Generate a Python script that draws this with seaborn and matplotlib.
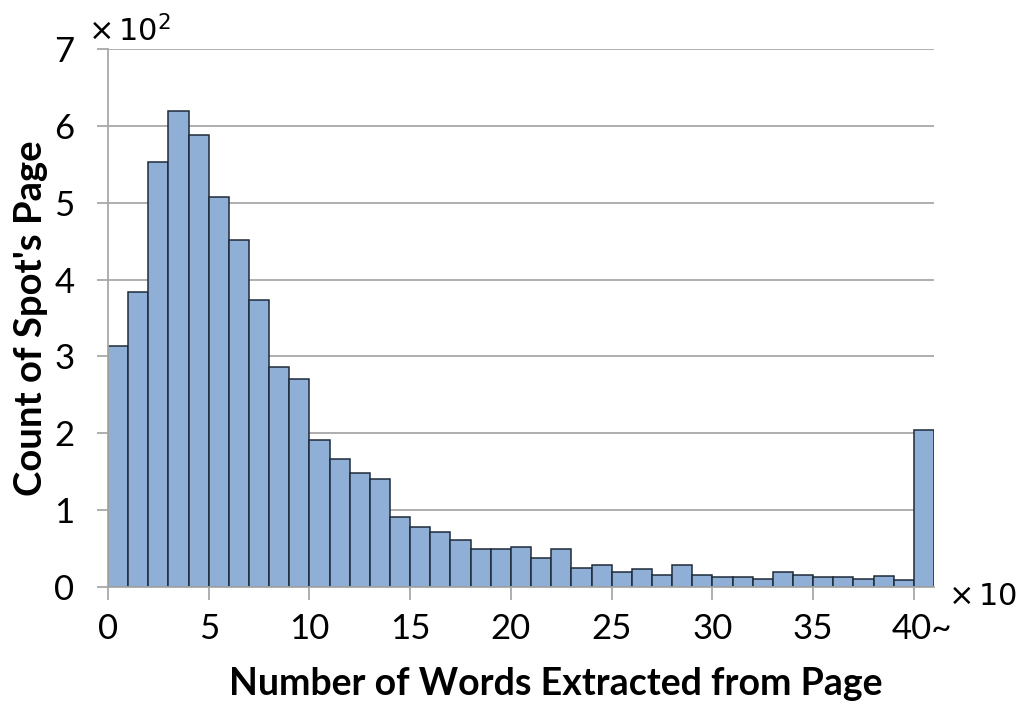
import numpy as np
import pandas as pd
import matplotlib
matplotlib.use("Agg")
import matplotlib.pyplot as plt
import matplotlib.transforms as mtransforms
import seaborn as sns

# Pages per bin of extracted word counts (bins of 10 words; last bin is 400 and above)
bin_starts = list(range(0, 41))
page_counts = [314, 384, 553, 619, 588, 508, 452, 374, 286, 271,
               191, 166, 148, 140, 91, 78, 72, 61, 49, 49,
               52, 38, 50, 25, 28, 19, 24, 15, 28, 15,
               13, 13, 10, 20, 15, 13, 13, 10, 14, 9,
               204]
x_ticks = [0, 5, 10, 15, 20, 25, 30, 35, 40]
x_tick_labels = ["0", "5", "10", "15", "20", "25", "30", "35", "40~"]
y_ticks = [0, 1, 2, 3, 4, 5, 6, 7]

sns.set_theme(style="white")
plt.rcParams["font.family"] = ["Lato", "DejaVu Sans"]
plt.rcParams["text.color"] = "black"
plt.rcParams["axes.labelcolor"] = "black"

fig = plt.figure(figsize=(10.28, 7.13), dpi=100)
ax = fig.add_axes([0.105, 0.1767, 0.8036, 0.7546])

df = pd.DataFrame({
    "center": np.array(bin_starts, dtype=float) + 0.5,
    "hundreds": np.array(page_counts, dtype=float) / 100.0,
})
sns.histplot(data=df, x="center", weights="hundreds", binwidth=1,
             binrange=(0, 41), ax=ax, color="#8FAFD7", edgecolor="#1E2B3A",
             linewidth=1.1, alpha=1.0)

grid_color = "#A8A8A8"
ax.set_xlim(0, 41)
ax.set_ylim(0, 7)
ax.set_yticks(y_ticks)
ax.set_yticklabels([str(v) for v in y_ticks])
ax.set_xticks(x_ticks)
ax.set_xticklabels(x_tick_labels)
ax.yaxis.grid(True, color=grid_color, linewidth=1.3, zorder=0)
ax.xaxis.grid(False)
ax.set_axisbelow(True)

for side in ["top", "right"]:
    ax.spines[side].set_visible(False)
for side in ["left", "bottom"]:
    ax.spines[side].set_color(grid_color)
    ax.spines[side].set_linewidth(1.3)

ax.tick_params(axis="y", which="both", left=True, length=8, width=1.3,
               color=grid_color, labelsize=25, pad=16, labelcolor="black")
ax.tick_params(axis="x", which="both", bottom=True, length=9, width=1.3,
               color=grid_color, labelsize=25, pad=10, labelcolor="black")

# nudge the open-ended last label so its digits sit over the tick
last = ax.get_xticklabels()[-1]
last.set_transform(last.get_transform() +
                   mtransforms.ScaledTranslation(6 / 72, 0, fig.dpi_scale_trans))

ax.set_xlabel("Number of Words Extracted from Page", fontsize=27,
              fontweight="bold", color="black")
ax.xaxis.set_label_coords(0.542, -0.148)
ax.set_ylabel("Count of Spot's Page", fontsize=27.5, fontweight="bold",
              color="black")
ax.yaxis.set_label_coords(-0.073, 0.5)

fig.text(0.086, 0.955, r"$\times\,10^{2}$", fontsize=22, ha="left",
         va="center", color="black", family="DejaVu Serif")
fig.text(0.922, 0.163, r"$\times\,10$", fontsize=22, ha="left",
         va="center", color="black", family="DejaVu Serif")

fig.savefig("out.png", dpi=100)
